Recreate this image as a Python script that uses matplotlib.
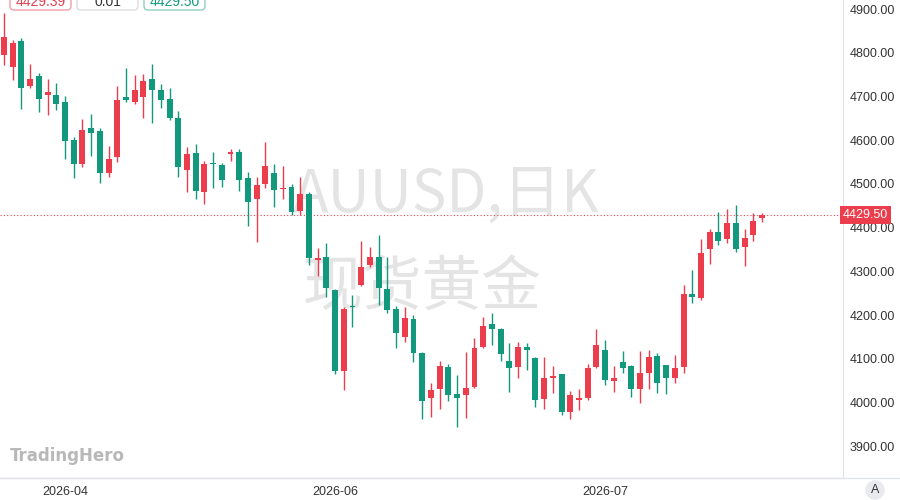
import matplotlib
matplotlib.use('Agg')
import matplotlib.pyplot as plt
import matplotlib.patches as mpatches
import numpy as np

# daily OHLC (red = up, green = down)
opens = [4795, 4767, 4828, 4725, 4747, 4703, 4703, 4687, 4600, 4545,
         4629, 4622, 4526, 4561, 4698, 4688, 4699, 4741, 4716, 4694,
         4651, 4533, 4571, 4482, 4549, 4543, 4568, 4572, 4514, 4465,
         4501, 4524, 4488, 4493, 4439, 4476, 4327, 4332, 4257, 4072,
         4220, 4268, 4314, 4332, 4259, 4214, 4150, 4192, 4114, 4009,
         4030, 4080, 4019, 4017, 4035, 4127, 4179, 4167, 4095, 4080,
         4126, 4101, 4007, 4055, 4065, 3979, 4005, 4011, 4082, 4120,
         4050, 4093, 4083, 4030, 4067, 4107, 4085, 4055, 4080, 4248,
         4240, 4350, 4390, 4375, 4411, 4356, 4383, 4421]
highs = [4891, 4829, 4833, 4774, 4754, 4741, 4730, 4701, 4608, 4648,
         4660, 4629, 4587, 4724, 4766, 4749, 4751, 4774, 4728, 4719,
         4667, 4585, 4591, 4553, 4572, 4547, 4581, 4581, 4528, 4516,
         4596, 4545, 4542, 4501, 4516, 4482, 4354, 4364, 4259, 4219,
         4246, 4370, 4356, 4383, 4333, 4221, 4219, 4200, 4116, 4045,
         4095, 4087, 4063, 4116, 4147, 4196, 4204, 4170, 4137, 4138,
         4137, 4104, 4103, 4083, 4066, 4027, 4031, 4089, 4167, 4143,
         4083, 4118, 4085, 4118, 4121, 4113, 4086, 4108, 4269, 4304,
         4373, 4396, 4436, 4442, 4452, 4398, 4433, 4434]
lows = [4772, 4739, 4671, 4719, 4665, 4658, 4669, 4556, 4513, 4539,
        4564, 4503, 4516, 4551, 4688, 4684, 4650, 4640, 4673, 4646,
        4516, 4482, 4465, 4454, 4490, 4492, 4553, 4484, 4404, 4368,
        4490, 4448, 4465, 4429, 4429, 4314, 4289, 4242, 4066, 4028,
        4173, 4266, 4309, 4223, 4205, 4124, 4139, 4093, 3961, 3966,
        3984, 4004, 3944, 3964, 4032, 4125, 4131, 4095, 4024, 4055,
        4074, 3989, 3984, 4021, 3971, 3962, 3982, 4005, 4078, 4040,
        4024, 4067, 4013, 3998, 4030, 4021, 4019, 4044, 4068, 4227,
        4234, 4317, 4360, 4364, 4345, 4312, 4370, 4413]
closes = [4837, 4823, 4719, 4740, 4695, 4711, 4684, 4599, 4545, 4623,
          4617, 4526, 4556, 4692, 4691, 4716, 4736, 4716, 4692, 4652,
          4539, 4568, 4484, 4545, 4545, 4509, 4572, 4509, 4458, 4497,
          4542, 4486, 4490, 4436, 4477, 4330, 4331, 4261, 4072, 4213,
          4218, 4309, 4332, 4261, 4211, 4158, 4194, 4112, 4004, 4028,
          4083, 4018, 4011, 4032, 4125, 4175, 4167, 4110, 4079, 4126,
          4121, 4005, 4055, 4061, 3979, 4018, 4009, 4079, 4131, 4051,
          4055, 4078, 4030, 4068, 4105, 4045, 4057, 4078, 4248, 4242,
          4342, 4390, 4370, 4410, 4352, 4377, 4416, 4429.5]

# date labels on the time axis (candle index -> label)
date_idx = [7, 38, 69]
date_labels = ['2026-04', '2026-06', '2026-07']

# quote boxes at the top
quote_vals = ['4429.39', '0.01', '4429.50']
last_price = 4429.50

UP = '#ec3d4c'
DOWN = '#12997d'

plt.rcParams['font.family'] = ['Liberation Sans', 'Noto Sans CJK SC', 'DejaVu Sans']

fig = plt.figure(figsize=(9, 5), dpi=100)
ax = fig.add_axes([0, 22 / 500, 843 / 900, 478 / 500])

x = np.arange(len(opens))
o = np.array(opens, dtype=float)
c = np.array(closes, dtype=float)
cols = [UP if cc >= oo else DOWN for oo, cc in zip(o, c)]

# wicks and bodies
ax.vlines(x, lows, highs, colors=cols, linewidth=1.0, zorder=3)
body_h = np.maximum(np.abs(c - o), 2.5)
ax.bar(x, body_h, bottom=np.minimum(o, c), width=0.68, color=cols, zorder=4)

# last price dotted line
ax.axhline(last_price, color='#ec3d4c', linestyle=(0, (1, 2)), linewidth=0.8, zorder=2)

ax.set_xlim(-0.46, 96.3)
ax.set_ylim(3827, 4921)

# axes look like TradingView
for s in ['top', 'left']:
    ax.spines[s].set_visible(False)
ax.spines['right'].set_color('#e0e3eb')
ax.spines['bottom'].set_color('#e0e3eb')
ax.yaxis.tick_right()
ax.set_yticks(np.arange(3900, 4901, 100))
ax.set_yticklabels(['%.2f' % v for v in np.arange(3900, 4901, 100)])
ax.tick_params(axis='y', length=0, pad=5, labelsize=9, labelcolor='#333333')
ax.set_xticks(date_idx)
ax.set_xticklabels(date_labels)
ax.tick_params(axis='x', length=0, pad=6, labelsize=9, labelcolor='#333333')

# price tag on the right scale
ax.text(1.0, last_price, '%.2f' % last_price, transform=ax.get_yaxis_transform(),
        ha='left', va='center', fontsize=9, color='white', zorder=6,
        bbox=dict(boxstyle='square,pad=0.25', fc='#ec3d4c', ec='none'))

# watermark
ax.text(293 / 900, (500 - 212) / 500, 'AUUSD,日K', transform=fig.transFigure,
        fontsize=42, color='#e4e4e4', ha='left', va='baseline', zorder=0,
        family=['Noto Sans CJK SC'])
ax.text(302 / 900, (500 - 288) / 500, '现货黄金', transform=fig.transFigure,
        fontsize=43, color='#e4e4e4', ha='left', va='center', zorder=0,
        family=['Noto Sans CJK SC'])

# logo
fig.text(10 / 900, (500 - 456) / 500, 'TradingHero', fontsize=12, fontweight='bold',
         color='#b8b8b8', ha='left', va='center', family=['DejaVu Sans'])

# top quote boxes (cut off by the top edge, as in the screenshot)
box_x = [0.10, 0.77, 1.44]
box_ec = ['#f0a0a8', '#dddddd', '#8fd0c0']
box_tc = ['#e04050', '#333333', '#139a7e']
for bx, ec, tc, val in zip(box_x, box_ec, box_tc, quote_vals):
    p = mpatches.FancyBboxPatch((bx, 4.90), 0.61, 0.25,
                                boxstyle='round,pad=0,rounding_size=0.04',
                                transform=fig.dpi_scale_trans, fc='white', ec=ec, lw=1)
    fig.patches.append(p)
    fig.text((bx + 0.305) / 9, 0.996, val, fontsize=10, color=tc, ha='center', va='center')

# bottom separator and the "A" button
fig.add_artist(plt.Line2D([0, 1], [22 / 500, 22 / 500], color='#e0e3eb', lw=1))
fig.text(875 / 900, 10 / 500, 'A', fontsize=9, color='#333333', ha='center', va='center',
         bbox=dict(boxstyle='circle,pad=0.3', fc='#e9eaef', ec='none'))

fig.savefig('out.png', dpi=100, facecolor='white')
